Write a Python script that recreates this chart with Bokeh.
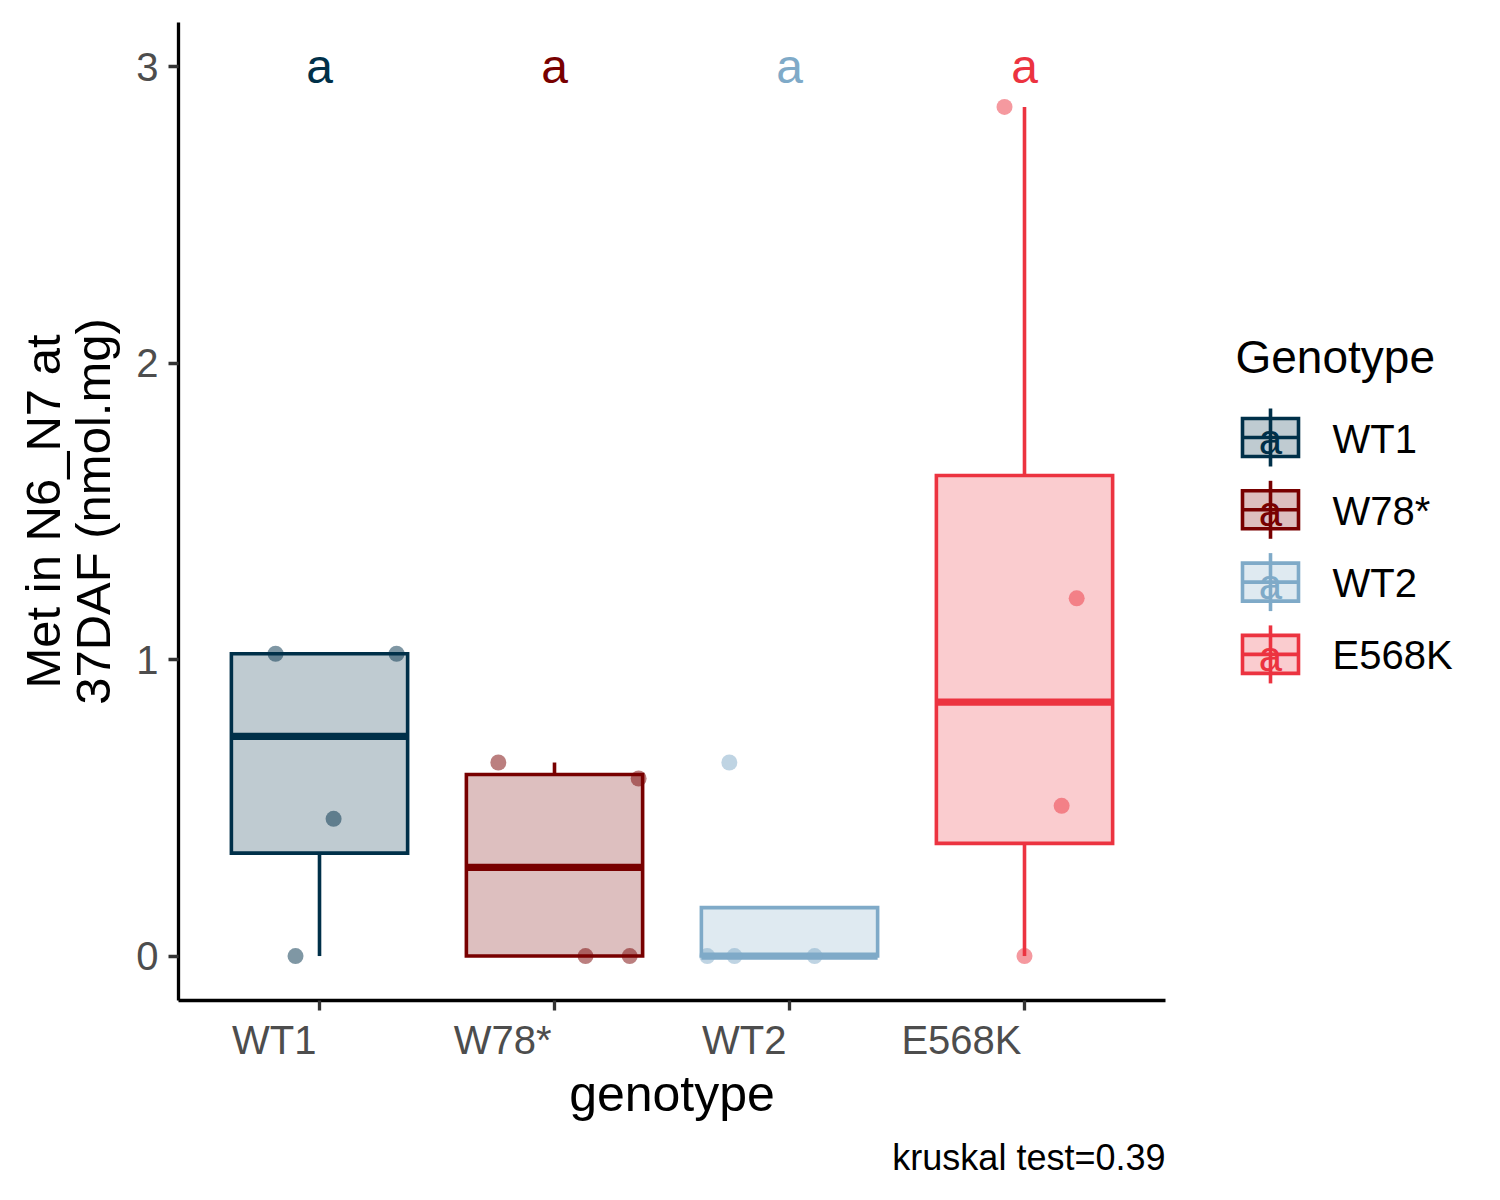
import numpy as np
from bokeh.plotting import figure
from bokeh.models import Range1d, FixedTicker, LinearAxis, ColumnDataSource
from bokeh.core.properties import value
from bokeh.embed import file_html
from bokeh.resources import INLINE

# ---------------- data ----------------
genotypes = ["WT1", "W78*", "WT2", "E568K"]
colors = ["#003049", "#780000", "#7FAAC8", "#EC3340"]
letters = ["a", "a", "a", "a"]
wt1_vals = [1.02, 1.02, 0.463, 0.0]
w78_vals = [0.653, 0.599, 0.0, 0.0]
wt2_vals = [0.653, 0.0, 0.0, 0.0]
e568k_vals = [2.865, 1.207, 0.507, 0.0]
# horizontal jitter of each point (category units)
wt1_jit = [-0.187, 0.328, 0.060, -0.102]
w78_jit = [-0.239, 0.358, 0.132, 0.320]
wt2_jit = [-0.256, -0.350, -0.234, 0.107]
e568k_jit = [-0.085, 0.222, 0.158, 0.0]
y_ticks = [0, 1, 2, 3]
letter_y = 3
kruskal_text = "kruskal test=0.39"
x_title = "genotype"
y_title_lines = ["Met in N6_N7 at", "37DAF (nmol.mg)"]
legend_title = "Genotype"

groups_vals = [wt1_vals, w78_vals, wt2_vals, e568k_vals]
groups_jit = [wt1_jit, w78_jit, wt2_jit, e568k_jit]

FONT = "Liberation Sans"
LW = 3.6
BOX_W = 0.75

# ---------------- geometry (page pixels) ----------------
W, H = 1490, 1195
X0, X1 = 0.4, 4.6          # x axis limits (category units)
Y0, Y1 = -0.15, 3.15       # y axis limits
FL, FR, FT, FB = 178, 1165, 22, 1000   # plotting panel edges in pixels


def dx(px):
    return X0 + (px - FL) * (X1 - X0) / (FR - FL)


def dy(py):
    return Y0 + (FB - py) * (Y1 - Y0) / (FB - FT)


p = figure(width=W, height=H, output_backend="svg", toolbar_location=None,
           x_range=Range1d(dx(0), dx(W)), y_range=Range1d(dy(H), dy(0)),
           x_axis_location=None, y_axis_location=None,
           min_border_left=0, min_border_right=0, min_border_top=0, min_border_bottom=0)
p.outline_line_color = None
p.grid.visible = False
p.background_fill_color = "white"
p.border_fill_color = "white"

yax = LinearAxis(fixed_location=X0, bounds=(Y0, Y1), ticker=FixedTicker(ticks=y_ticks))
xax = LinearAxis(fixed_location=Y0, bounds=(X0, X1),
                 ticker=FixedTicker(ticks=list(range(1, len(genotypes) + 1))),
                 major_label_overrides={i + 1: "" for i in range(len(genotypes))})
for ax in (xax, yax):
    ax.axis_line_color = "black"
    ax.axis_line_width = 3.3
    ax.major_tick_line_color = "#333333"
    ax.major_tick_line_width = 3.3
    ax.major_tick_out = 10
    ax.major_tick_in = 0
    ax.minor_tick_line_color = None
    ax.major_label_text_font = FONT
    ax.major_label_text_color = "#4D4D4D"
    ax.major_label_text_font_size = "40px"
yax.major_label_standoff = 10
p.add_layout(yax, "left")
p.add_layout(xax, "below")

# ---------------- box statistics (ggplot style) ----------------
xs = np.arange(1, len(genotypes) + 1)
q1s, meds, q3s, los, his = [], [], [], [], []
for vals in groups_vals:
    v = np.asarray(vals, dtype=float)
    q1, med, q3 = np.percentile(v, [25, 50, 75])
    iqr = q3 - q1
    hi = max(v[v <= q3 + 1.5 * iqr].max(), q3)
    lo = min(v[v >= q1 - 1.5 * iqr].min(), q1)
    q1s.append(q1); meds.append(med); q3s.append(q3); los.append(lo); his.append(hi)

box_src = ColumnDataSource(dict(
    x=xs, left=xs - BOX_W / 2, right=xs + BOX_W / 2,
    q1=q1s, q3=q3s, med=meds, lo=los, hi=his, color=colors))

p.segment(x0="x", y0="q3", x1="x", y1="hi", source=box_src, line_color="color", line_width=LW)
p.segment(x0="x", y0="q1", x1="x", y1="lo", source=box_src, line_color="color", line_width=LW)
p.quad(left="left", right="right", bottom="q1", top="q3", source=box_src,
       fill_color="color", fill_alpha=0.25, line_color="color", line_width=LW, line_join="miter")
p.segment(x0="left", y0="med", x1="right", y1="med", source=box_src,
          line_color="color", line_width=2 * LW)

# jittered points
px, py, pc = [], [], []
for i, (vals, jit) in enumerate(zip(groups_vals, groups_jit)):
    for v, j in zip(vals, jit):
        px.append(i + 1 + j); py.append(v); pc.append(colors[i])
p.scatter(x=px, y=py, size=16, fill_color=pc, fill_alpha=0.5, line_color=None)

# significance letters
p.text(x=list(xs), y=[letter_y] * len(xs), text=letters, text_color=colors,
       text_align="center", text_baseline="middle", text_font=value(FONT),
       text_font_size="48px")

MID = dict(text_baseline="middle", text_font=value(FONT))

# x tick labels, right-aligned at their ticks
p.text(x=list(xs), y=[dy(1039)] * len(xs), x_offset=-3, text=genotypes,
       text_align="right", text_font_size="40px", text_color="#4D4D4D", **MID)

# axis titles
p.text(x=[dx((FL + FR) / 2)], y=[dy(1093)], text=[x_title], text_align="center",
       text_font_size="50px", text_color="black", **MID)
p.text(x=[dx(42), dx(92)], y=[dy((FT + FB) / 2)] * 2, text=y_title_lines, angle=np.pi / 2,
       text_align="center", text_font_size="49px", text_color="black", **MID)

# caption
p.text(x=[X1], y=[dy(1157)], text=[kruskal_text], text_align="right",
       text_font_size="36px", text_color="black", **MID)

# ---------------- legend ----------------
p.text(x=[dx(1235)], y=[dy(356)], text=[legend_title], text_font_size="46px",
       text_align="left", text_color="black", **MID)

key_cx, key_hw, key_hh, key_wh = 1270, 28, 19, 29
row0, row_step = 437, 72.3
ky = [row0 + i * row_step for i in range(len(genotypes))]
lsrc = ColumnDataSource(dict(
    x=[dx(key_cx)] * len(ky), y=[dy(v) for v in ky], ya=[dy(v + 2) for v in ky],
    left=[dx(key_cx - key_hw)] * len(ky), right=[dx(key_cx + key_hw)] * len(ky),
    top=[dy(v - key_hh) for v in ky], bottom=[dy(v + key_hh) for v in ky],
    wt=[dy(v - key_wh) for v in ky], wb=[dy(v + key_wh) for v in ky],
    color=colors, label=genotypes, letter=letters,
    lx=[dx(1332)] * len(ky), ly=[dy(v + 1) for v in ky]))
lg_seg = dict(source=lsrc, line_color="color", line_width=LW)
p.segment(x0="x", y0="wt", x1="x", y1="wb", **lg_seg)
p.quad(left="left", right="right", top="top", bottom="bottom", source=lsrc,
       fill_color="color", fill_alpha=0.25, line_color="color", line_width=LW,
       line_join="miter")
p.segment(x0="left", y0="y", x1="right", y1="y", **lg_seg)
p.text(x="x", y="ya", text="letter", source=lsrc, text_color="color", text_align="center",
       text_font_size="42px", **MID)
p.text(x="lx", y="ly", text="label", source=lsrc, text_color="black", text_align="left",
       text_font_size="40px", **MID)

open("out.html", "w").write(file_html(p, INLINE))
